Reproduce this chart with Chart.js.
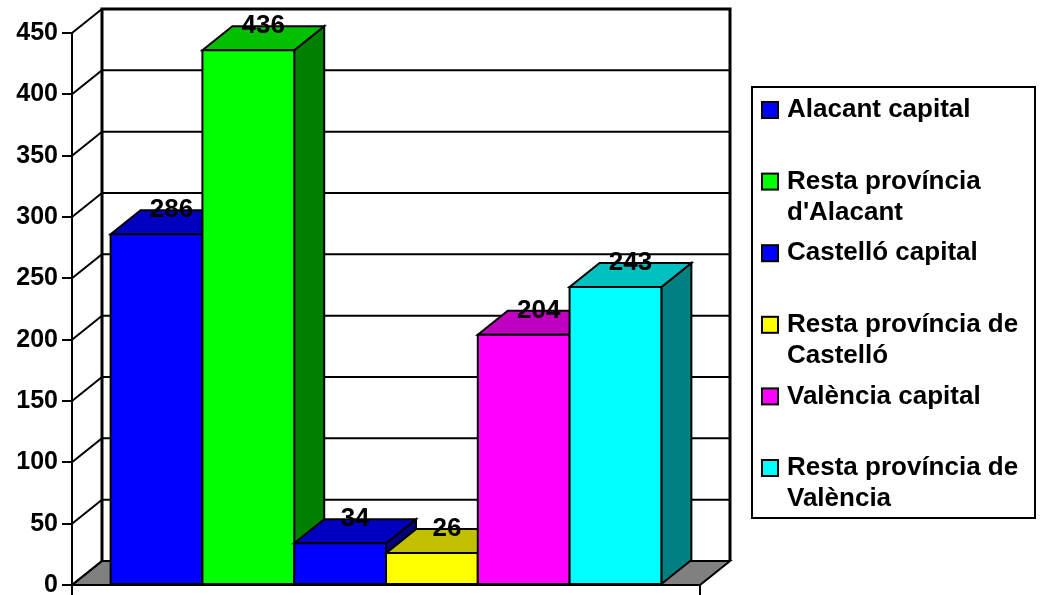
<!DOCTYPE html>
<html lang="ca">
<head>
<meta charset="UTF-8">
<title>Distribució per zones</title>
<script src="https://cdn.jsdelivr.net/npm/chart.js"></script>
<style>
  html, body { margin: 0; padding: 0; background: #fff; }
</style>
</head>
<body>
<canvas id="grafic" width="1043" height="595"></canvas>
<script>
// dades
const zones = ['Alacant capital', "Resta província d'Alacant", 'Castelló capital',
               'Resta província de Castelló', 'València capital', 'Resta província de València'];
const legendLines = [['Alacant capital'], ['Resta província', "d'Alacant"], ['Castelló capital'],
                     ['Resta província de', 'Castelló'], ['València capital'], ['Resta província de', 'València']];
const valors = [286, 436, 34, 26, 204, 243];
const colorFront = ['#0000ff', '#00ff00', '#0000ff', '#ffff00', '#ff00ff', '#00ffff'];
const colorTop   = ['#0000c0', '#00c000', '#0000c0', '#c0c000', '#c000c0', '#00c0c0'];
const colorSide  = ['#000080', '#008000', '#000080', '#808000', '#800080', '#008080'];
const yMax = 450;
const yStep = 50;

const FONT = 'Arial, "Liberation Sans", sans-serif';
const DX = 30, DY = 24;   // profunditat 3D

function poly(ctx, pts, fill) {
  ctx.beginPath();
  ctx.moveTo(pts[0][0], pts[0][1]);
  for (let k = 1; k < pts.length; k++) ctx.lineTo(pts[k][0], pts[k][1]);
  ctx.closePath();
  ctx.fillStyle = fill;
  ctx.fill();
  ctx.stroke();
}

// parets, terra i barres en 3D
const efecte3d = {
  id: 'efecte3d',
  beforeDatasetsDraw(chart) {
    const { ctx, chartArea: a, scales: { y } } = chart;
    ctx.save();
    ctx.strokeStyle = '#000';
    ctx.lineWidth = 2;
    // terra
    poly(ctx, [[a.left, a.bottom], [a.right, a.bottom], [a.right + DX, a.bottom - DY], [a.left + DX, a.bottom - DY]], '#808080');
    // línies de divisió a la paret lateral i al fons
    y.ticks.forEach(t => {
      const py = y.getPixelForValue(t.value);
      ctx.beginPath();
      ctx.moveTo(a.left, py);
      ctx.lineTo(a.left + DX, py - DY);
      ctx.lineTo(a.right + DX, py - DY);
      ctx.stroke();
    });
    // vores de la paret del fons
    ctx.lineWidth = 3;
    ctx.beginPath();
    ctx.moveTo(a.left + DX, a.bottom - DY);
    ctx.lineTo(a.left + DX, a.top - DY);
    ctx.lineTo(a.right + DX, a.top - DY);
    ctx.lineTo(a.right + DX, a.bottom - DY);
    ctx.stroke();
    ctx.restore();
  },
  afterDatasetsDraw(chart) {
    const { ctx } = chart;
    ctx.save();
    ctx.strokeStyle = '#000';
    ctx.lineWidth = 2;
    const bars = chart.data.datasets.map((ds, i) => chart.getDatasetMeta(i).data[0]);
    bars.forEach((bar, i) => {
      const l = bar.x - bar.width / 2, r = bar.x + bar.width / 2, t = bar.y, b = bar.base;
      poly(ctx, [[r, b], [r + DX, b - DY], [r + DX, t - DY], [r, t]], colorSide[i]);
      poly(ctx, [[l, t], [r, t], [r + DX, t - DY], [l + DX, t - DY]], colorTop[i]);
      poly(ctx, [[l, b], [r, b], [r, t], [l, t]], colorFront[i]);
    });
    // etiquetes de valor
    ctx.fillStyle = '#000';
    ctx.font = 'bold 26px ' + FONT;
    ctx.textAlign = 'center';
    ctx.textBaseline = 'middle';
    bars.forEach((bar, i) => {
      ctx.fillText(String(chart.data.datasets[i].data[0]), bar.x + DX / 2, bar.y - DY);
    });
    ctx.restore();
  }
};

// llegenda amb text en diverses línies
const llegenda = {
  id: 'llegenda',
  afterDraw(chart) {
    const { ctx } = chart;
    ctx.save();
    ctx.strokeStyle = '#000';
    ctx.lineWidth = 2;
    ctx.strokeRect(752, 87, 283, 431);
    ctx.font = 'bold 26px ' + FONT;
    ctx.textAlign = 'left';
    ctx.textBaseline = 'middle';
    legendLines.forEach((lines, i) => {
      const cy = 110 + i * 71.6;
      ctx.fillStyle = colorFront[i];
      ctx.fillRect(762, cy - 8, 16, 16);
      ctx.strokeRect(762, cy - 8, 16, 16);
      ctx.fillStyle = '#000';
      lines.forEach((txt, j) => ctx.fillText(txt, 787, cy + j * 31));
    });
    ctx.restore();
  }
};

function dibuixa() {
  new Chart(document.getElementById('grafic'), {
    type: 'bar',
    data: {
      labels: [''],
      datasets: zones.map((z, i) => ({
        label: z,
        data: [valors[i]],
        backgroundColor: colorFront[i],
        borderWidth: 0
      }))
    },
    options: {
      responsive: false,
      animation: false,
      devicePixelRatio: 1,
      categoryPercentage: 0.877,
      barPercentage: 1,
      layout: { padding: { top: 33, right: 343, left: 0, bottom: 0 } },
      plugins: { legend: { display: false }, tooltip: { enabled: false } },
      scales: {
        x: {
          grid: { drawOnChartArea: false, tickLength: 10, color: '#000', lineWidth: 2, offset: true },
          border: { color: '#000', width: 2 },
          ticks: { display: false },
          afterFit(s) { s.height = 10; }
        },
        y: {
          min: 0,
          max: yMax,
          // lineHeight petit perquè l'etiqueta del 0 no desplace la base
          ticks: { stepSize: yStep, color: '#000', padding: 4,
                   font: { size: 25, weight: 'bold', family: FONT, lineHeight: 0.4 } },
          grid: { drawOnChartArea: false, tickLength: 10, color: '#000', lineWidth: 2 },
          border: { color: '#000', width: 2 },
          afterFit(s) { s.width = 72; }
        }
      }
    },
    plugins: [efecte3d, llegenda]
  });
}

document.fonts.load('bold 26px "Liberation Sans"').then(dibuixa, dibuixa);
</script>
</body>
</html>
